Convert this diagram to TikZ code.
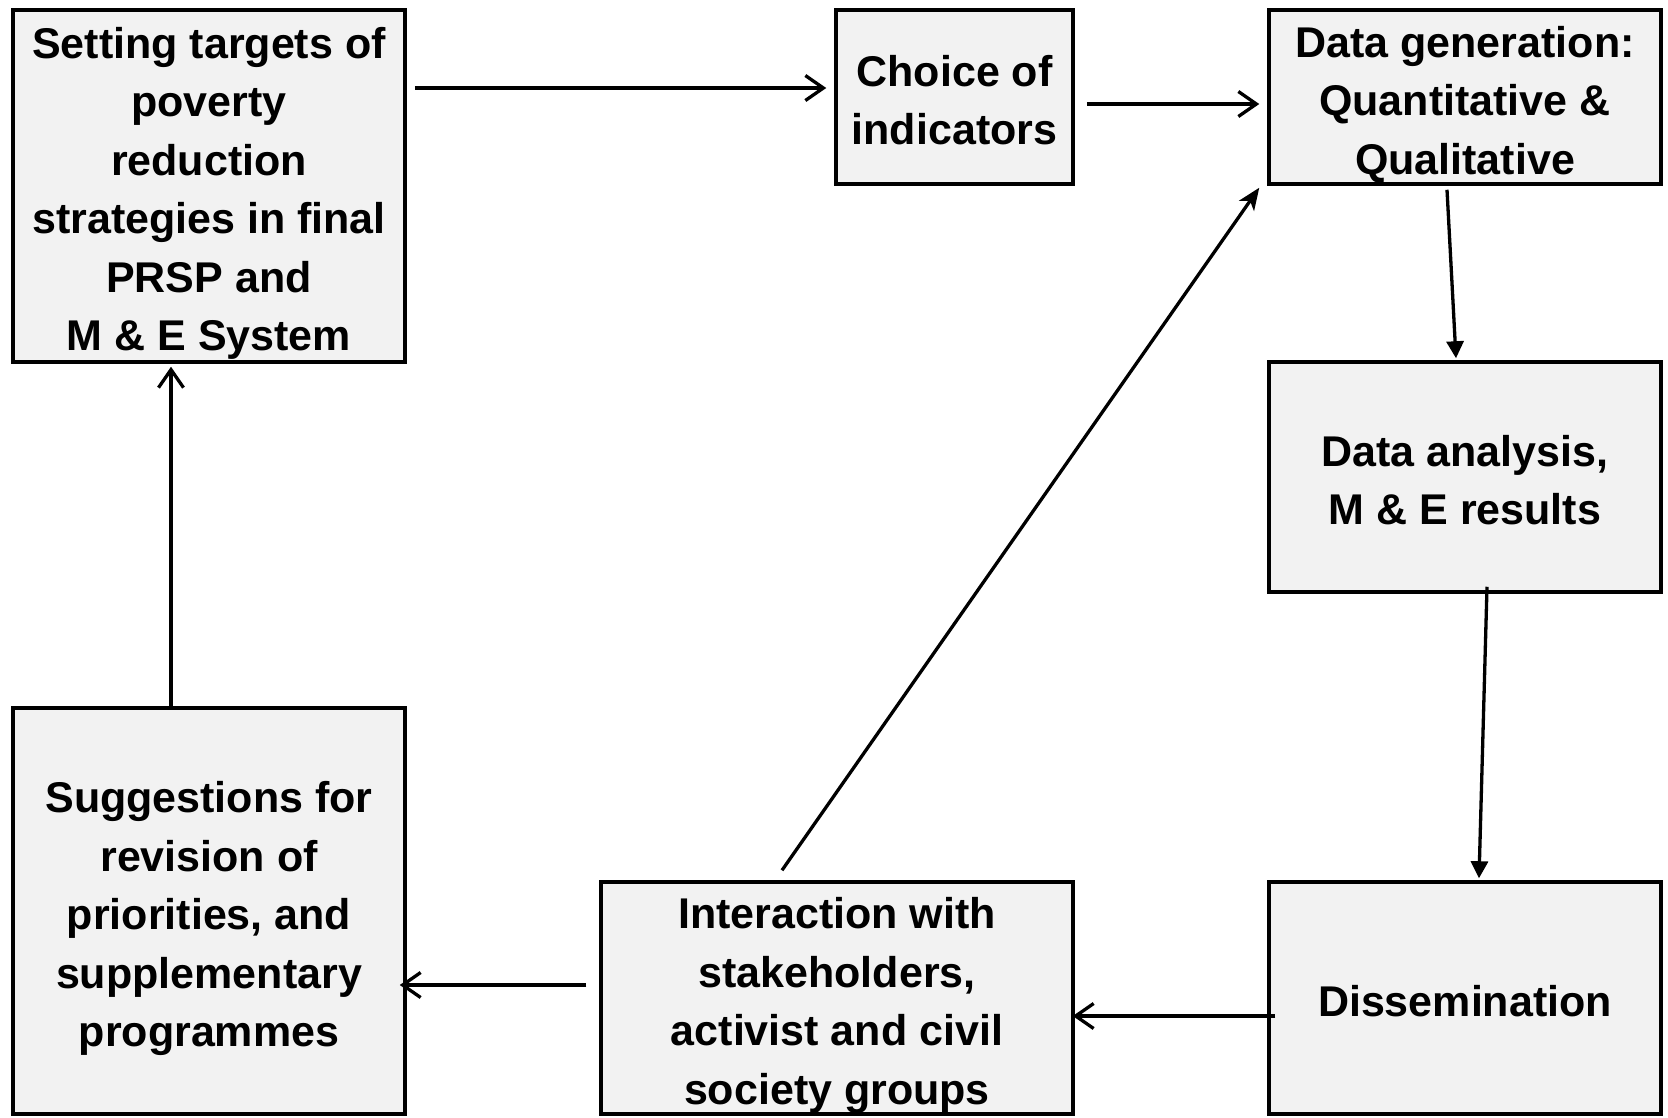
\documentclass[tikz,border=0pt]{standalone}
\usepackage{fontspec}
\setmainfont{Liberation Sans}
\usetikzlibrary{arrows.meta}
\definecolor{boxgray}{HTML}{F2F2F2}
\newcommand\boxtext[1]{\raisebox{0pt}[\height][\dimexpr\depth-14pt\relax]{\begin{tabular}{@{}c@{}}#1\end{tabular}}}
\tikzset{
  box/.style={draw=black, line width=3.5pt, fill=boxgray, align=center, inner sep=0pt,
    font=\fontsize{43pt}{58.5pt}\selectfont\bfseries},
  openarrow/.style={line width=3.3pt, -{Straight Barb[length=18pt,width=25pt,line width=3.3pt]}},
  fillarrow/.style={line width=3.3pt, -{Triangle[length=17pt,width=17pt]}},
  stealtharrow/.style={line width=3.3pt, -{Stealth[length=22pt,width=18pt,inset=6pt]}}
}
\begin{document}
\begin{tikzpicture}[x=1pt,y=-1pt]
\useasboundingbox (0,0) rectangle (1668,1117);
\node[box, minimum width=392pt, minimum height=352pt] (A) at (209,186)
  {\boxtext{Setting targets of\\poverty\\reduction\\strategies in final\\PRSP and\\M \& E System}};
\node[box, minimum width=237pt, minimum height=174pt] (B) at (954.5,97)
  {\boxtext{Choice of\\indicators}};
\node[box, minimum width=392pt, minimum height=174pt] (C) at (1465,97)
  {\boxtext{Data generation:\\Quantitative \&\\Qualitative}};
\node[box, minimum width=392pt, minimum height=230pt] (D) at (1465,477)
  {\boxtext{Data analysis,\\M \& E results}};
\node[box, minimum width=392pt, minimum height=232pt] (E) at (1465,998)
  {\boxtext{Dissemination}};
\node[box, minimum width=472pt, minimum height=232pt] (F) at (837,998)
  {\boxtext{Interaction with\\stakeholders,\\activist and civil\\society groups}};
\node[box, minimum width=392pt, minimum height=406pt] (G) at (209,911)
  {\boxtext{Suggestions for\\revision of\\priorities, and\\supplementary\\programmes}};

\draw[openarrow] ([xshift=8pt,yshift=98pt]A.east) -- ([xshift=-8pt,yshift=9pt]B.west);
\draw[openarrow] ([xshift=12pt,yshift=-7pt]B.east) -- ([xshift=-8pt,yshift=-7pt]C.west);
\draw[fillarrow] ([xshift=-18pt,yshift=-4pt]C.south) -- ([xshift=-9pt,yshift=2pt]D.north);
\draw[fillarrow] ([xshift=22pt,yshift=7pt]D.south) -- ([xshift=14pt,yshift=2pt]E.north);
\draw[openarrow] ([xshift=8pt,yshift=-18pt]E.west) -- ([xshift=-2pt,yshift=-18pt]F.east);
\draw[openarrow] ([xshift=-13pt,yshift=13pt]F.west) -- ([xshift=-7pt,yshift=-74pt]G.east);
\draw[openarrow] ([xshift=-38pt]G.north) -- ([xshift=-38pt,yshift=-3pt]A.south);
\draw[stealtharrow] ([xshift=-55pt,yshift=10pt]F.north) -- ([xshift=-8pt,yshift=-2pt]C.south west);
\end{tikzpicture}
\end{document}
